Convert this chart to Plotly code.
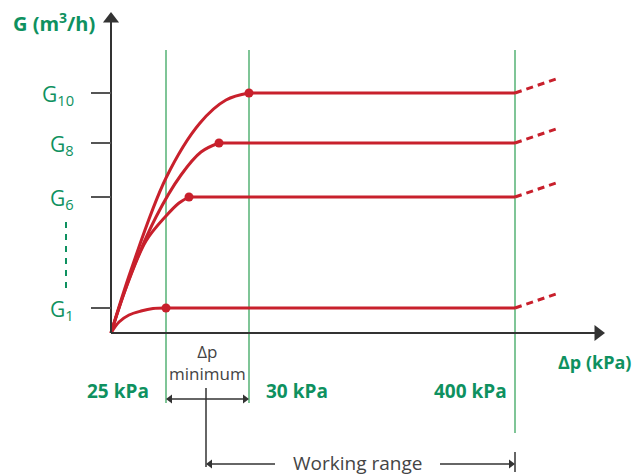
import plotly.graph_objects as go

# ---- data (schematic units: 1 unit = 1 px from the origin) ----
level_names = ["G<sub>1</sub>", "G<sub>6</sub>", "G<sub>8</sub>", "G<sub>10</sub>"]
levels = [25, 136, 190, 240]
knee_x = [55, 78, 108, 138]
curve_x = [
    [0, 8, 18, 30, 42, 55],
    [0, 15, 35, 55, 68, 78],
    [0, 20, 45, 70, 90, 108],
    [0, 20, 55, 89, 115, 138],
]
curve_y = [
    [0, 11, 18, 22, 24.5, 25],
    [0, 45, 92, 117, 130, 136],
    [0, 59, 116, 158, 181, 190],
    [0, 63, 155, 210, 233, 240],
]
pressure_labels = ["25 kPa", "30 kPa", "400 kPa"]
pressure_x = [55, 138, 404]
extension_end_x = 445
extension_rise = 14
axis_x_end = 494
axis_y_end = 321

RED = "#c8202c"
GREEN_LINE = "#55b274"
GREEN_TXT = "#0e9160"
AX = "#333333"
GREY = "#444444"
FONT = "Open Sans"

fig = go.Figure()


def line(xs, ys, color, width, dash=None, shape="linear"):
    fig.add_trace(go.Scatter(x=xs, y=ys, mode="lines", line_shape=shape,
                             line=dict(color=color, width=width, dash=dash),
                             hoverinfo="skip", showlegend=False))


def marker(xs, ys, symbol, size, color):
    fig.add_trace(go.Scatter(x=xs, y=ys, mode="markers",
                             marker=dict(symbol=symbol, size=size, color=color,
                                         line=dict(width=0)),
                             hoverinfo="skip", showlegend=False))


# green vertical lines
green_bottom = [-70, -70, -100]
for px, gb in zip(pressure_x, green_bottom):
    line([px, px], [283, gb], GREEN_LINE, 1.5)

# red curves
for cx, cy, lv, kx in zip(curve_x, curve_y, levels, knee_x):
    line(cx, cy, RED, 3, shape="spline")
    line([kx, pressure_x[2]], [lv, lv], RED, 3)
    line([pressure_x[2], extension_end_x], [lv, lv + extension_rise], RED, 3, dash="7px,5px")
    marker([kx], [lv], "circle", 9, RED)

# axes
line([0, 0], [0, axis_y_end - 8], AX, 2)
line([0, axis_x_end - 8], [0, 0], AX, 2)
marker([0], [axis_y_end - 7], "triangle-up", 14, AX)
marker([axis_x_end - 7], [0], "triangle-right", 14, AX)
# y ticks
for lv in levels:
    line([-20, 0], [lv, lv], "#555555", 2)
# dashed green between G6 and G1
line([-45, -45], [111, 43], GREEN_TXT, 2, dash="6px,6px")

# Δp minimum double arrow
line([pressure_x[0] + 3, pressure_x[1] - 3], [-66, -66], AX, 1.5)
marker([pressure_x[0] + 4], [-66], "triangle-left", 8, AX)
marker([pressure_x[1] - 4], [-66], "triangle-right", 8, AX)
# working range
line([95, 95], [-55, -134], AX, 1.5)
line([pressure_x[2], pressure_x[2]], [-119, -139], AX, 1.5)
line([98, 164], [-131, -131], AX, 1.5)
line([329, pressure_x[2] - 3], [-131, -131], AX, 1.5)
marker([99], [-131], "triangle-left", 8, AX)
marker([pressure_x[2] - 4], [-131], "triangle-right", 8, AX)

ann = []
# y labels
for name, lv in zip(level_names, levels):
    ann.append(dict(x=-35, y=lv - 2, text=name, showarrow=False, xanchor="right",
                    yanchor="middle", font=dict(family=FONT, size=21, color=GREEN_TXT)))
ann.append(dict(x=-14, y=311, text="<b>G (m<sup>3</sup>/h)</b>", showarrow=False,
                xanchor="right", yanchor="middle",
                font=dict(family=FONT, size=20, color=GREEN_TXT)))
ann.append(dict(x=522, y=-29, text="<b>Δp (kPa)</b>", showarrow=False,
                xanchor="right", yanchor="middle",
                font=dict(family=FONT, size=18, color=GREEN_TXT)))
pl_pos = [7, 186, 359]
for lab, px in zip(pressure_labels, pl_pos):
    ann.append(dict(x=px, y=-58, text="<b>" + lab + "</b>", showarrow=False,
                    xanchor="center", yanchor="middle",
                    font=dict(family=FONT, size=19, color=GREEN_TXT)))
ann.append(dict(x=96, y=-29, text="Δp<br>minimum", showarrow=False,
                xanchor="center", yanchor="middle",
                font=dict(family=FONT, size=17, color=GREY)))
ann.append(dict(x=246, y=-130, text="Working range", showarrow=False,
                xanchor="center", yanchor="middle",
                font=dict(family=FONT, size=19, color=GREY)))

fig.update_layout(
    width=636, height=475, margin=dict(l=0, r=0, t=0, b=0),
    paper_bgcolor="white", plot_bgcolor="white",
    xaxis=dict(range=[-111, 525], visible=False, fixedrange=True),
    yaxis=dict(range=[-142, 333], visible=False, fixedrange=True),
    annotations=ann, showlegend=False,
)
fig.write_html("out.html",
               config={"displayModeBar": False},
               post_script="document.body.style.margin='0';"
                           "document.body.style.overflow='hidden';")
